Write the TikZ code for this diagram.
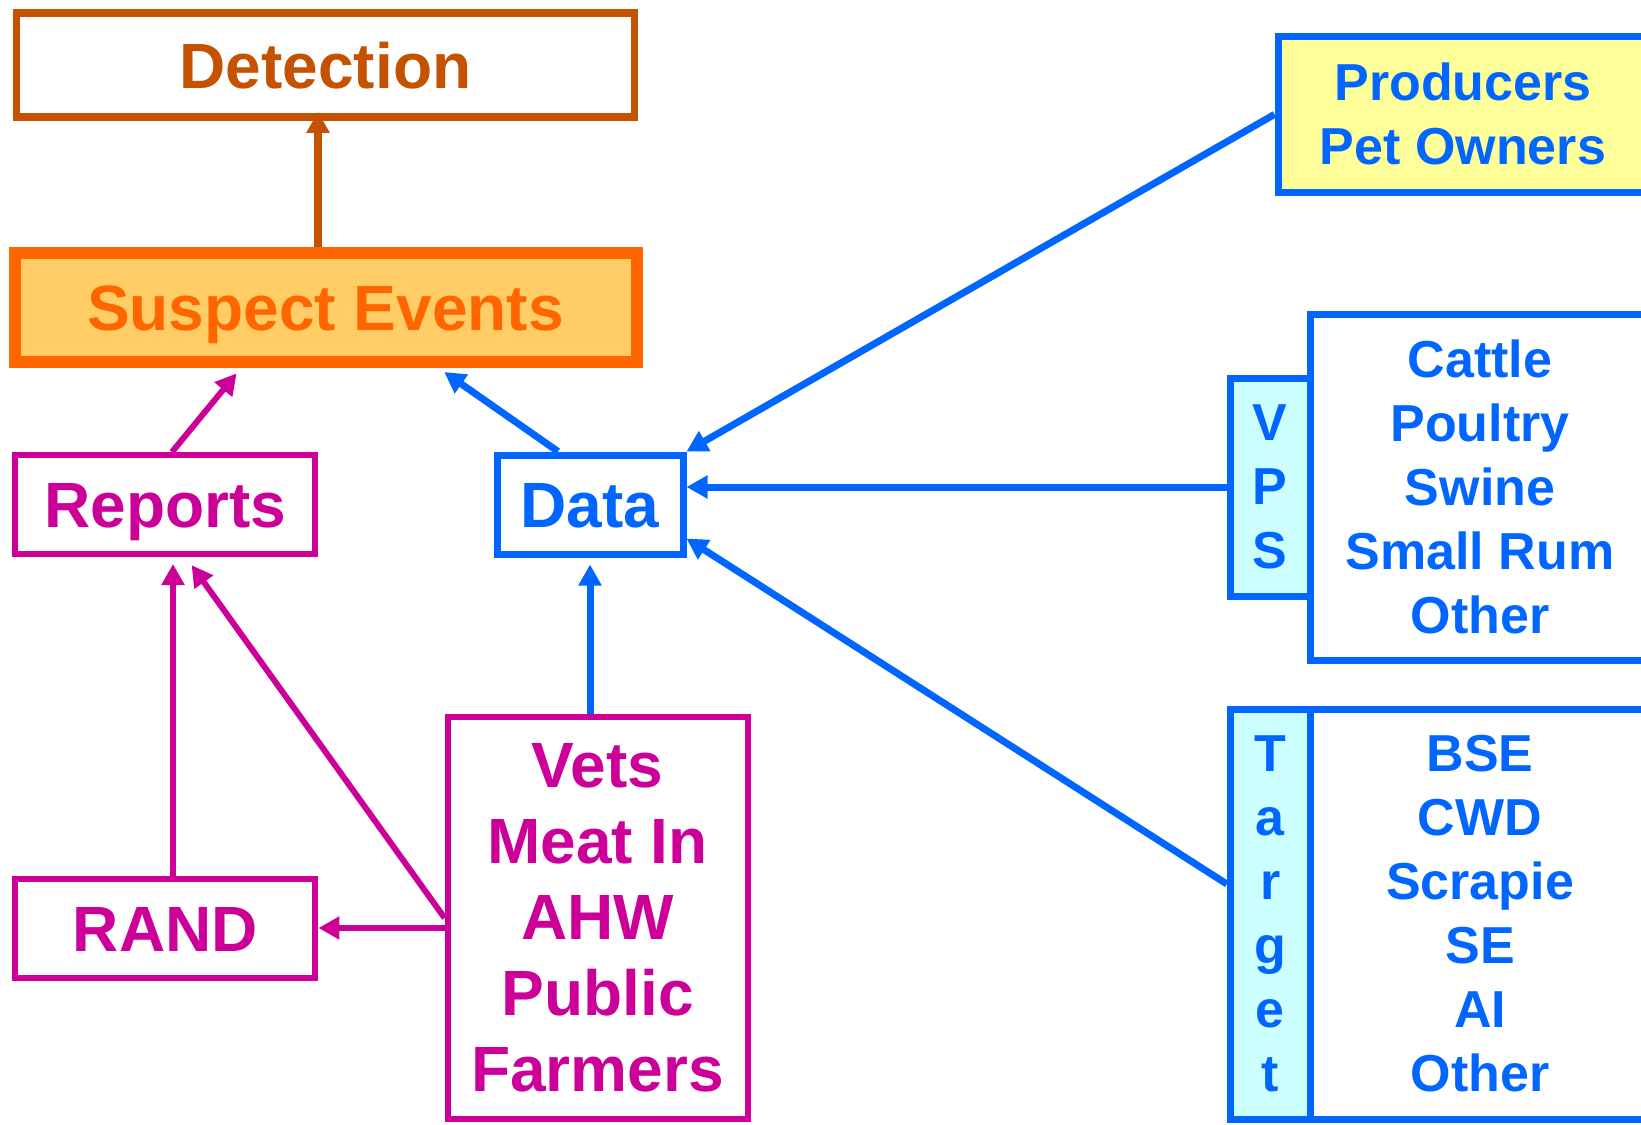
\documentclass[tikz,border=0pt]{standalone}
\usepackage{fontspec}
\setmainfont{Liberation Sans}
\usetikzlibrary{arrows.meta}
\definecolor{det-brown}{RGB}{197,82,0}
\definecolor{sus-orange}{RGB}{255,102,0}
\definecolor{sus-fill}{RGB}{255,204,102}
\definecolor{src-magenta}{RGB}{204,0,153}
\definecolor{src-blue}{RGB}{0,102,255}
\definecolor{prod-yellow}{RGB}{255,255,153}
\definecolor{tab-cyan}{RGB}{204,255,255}

\begin{document}
\begin{tikzpicture}[x=0.5pt, y=-0.5pt,
		box/.style={draw, rectangle, inner sep=0pt, align=center},
		bigtext/.style={font=\fontsize{32}{38}\selectfont\bfseries},
		smalltext/.style={font=\fontsize{26}{32}\selectfont\bfseries},
		oneline/.style={text height=23pt, text depth=0pt},
		magbox/.style={box, bigtext, draw=src-magenta, text=src-magenta, line width=3pt},
		bluebox/.style={box, smalltext, draw=src-blue, text=src-blue, line width=3.5pt},
		feed/.style={-{Triangle[length=10.5pt,width=11pt]}}]
	\clip (0,0) rectangle (1641,1124);
	% top of the chain
	\node[box, bigtext, oneline, draw=det-brown, text=det-brown, line width=3.75pt,
		minimum width=309pt, minimum height=52pt] (detection) at (325.5,65) {Detection};
	\node[box, bigtext, oneline, draw=sus-orange, fill=sus-fill, text=sus-orange, line width=6pt,
		minimum width=311pt, minimum height=54.5pt] (suspect) at (325.5,307.5) {Suspect Events};
	% left side
	\node[magbox, oneline, minimum width=150pt, minimum height=49.5pt] (reports) at (165.4,504.5) {Reports};
	\node[magbox, oneline, minimum width=150pt, minimum height=49.5pt] (rand) at (165.4,928) {RAND};
	\node[magbox, minimum width=150pt, minimum height=201pt] (vets) at (597.6,918)
		{Vets\\Meat In\\AHW\\Public\\Farmers};
	\node[bluebox, bigtext, oneline, minimum width=93pt, minimum height=49.5pt] (data) at (590,504.5) {Data};
	% right side
	\node[bluebox, fill=prod-yellow, minimum width=185pt, minimum height=78pt] (producers) at (1463,114.4)
		{Producers\\Pet Owners};
	\node[bluebox, minimum width=170pt, minimum height=173pt] (vpslist) at (1480,487)
		{Cattle\\Poultry\\Swine\\Small Rum\\Other};
	\node[bluebox, fill=tab-cyan, minimum width=40pt, minimum height=109pt] (vpstab) at (1270.3,487)
		{V\\P\\S};
	\node[bluebox, minimum width=170pt, minimum height=205pt] (targetlist) at (1480,914)
		{BSE\\CWD\\Scrapie\\SE\\AI\\Other};
	\node[bluebox, fill=tab-cyan, minimum width=40pt, minimum height=205pt] (targettab) at (1270.3,914)
		{T\\a\\r\\g\\e\\t};
	% arrows
	\draw[feed, det-brown, line width=3.75pt, shorten >=-4.5pt]
		([xshift=-3.75pt]suspect.north) -- ([xshift=-3.75pt]detection.south);
	\draw[feed, src-magenta, line width=3pt, shorten >=3.5pt]
		([xshift=3.3pt]reports.north) -- ([xshift=-42.25pt]suspect.south);
	\draw[feed, src-blue, line width=3.5pt, shorten >=3.5pt]
		([xshift=-16pt]data.north) -- ([xshift=56.5pt]suspect.south);
	\draw[feed, src-blue, line width=3.5pt] (producers.west) -- (data.north east);
	\draw[feed, src-blue, line width=3.5pt] (vpstab.west) -- (vpstab.west -| data.east);
	\draw[feed, src-blue, line width=3.5pt] ([yshift=15pt]targettab.west) -- ([yshift=-17pt]data.east);
	\draw[feed, src-blue, line width=3.5pt, shorten >=3.5pt] (vets.north -| data.south) -- (data.south);
	\draw[feed, src-magenta, line width=3pt, shorten >=3.5pt]
		([xshift=3.8pt]rand.north) -- ([xshift=3.8pt]reports.south);
	\draw[feed, src-magenta, line width=3pt, shorten >=5pt] (vets.west) -- ([xshift=10.2pt]reports.south);
	\draw[feed, src-magenta, line width=3pt] (vets.west |- rand.east) -- (rand.east);
\end{tikzpicture}
\end{document}
